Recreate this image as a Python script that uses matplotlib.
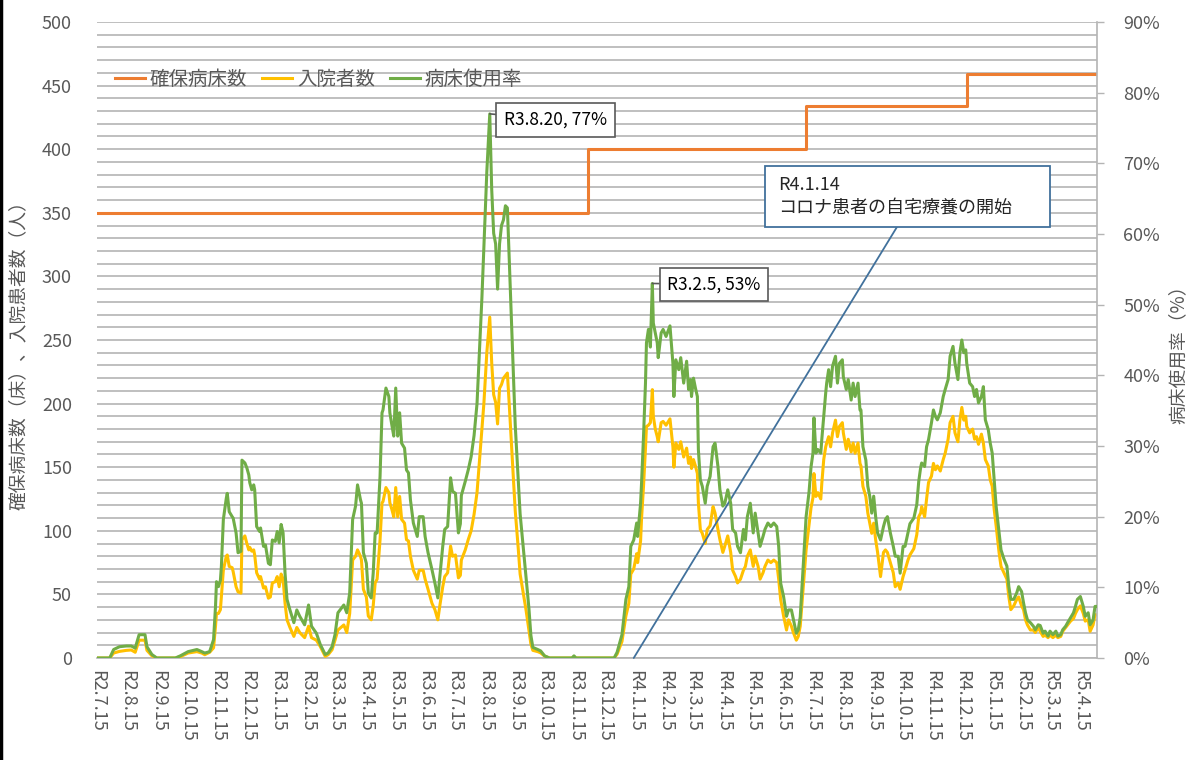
"""Hospital bed capacity, inpatients and bed usage rate (R2.7 - R5.5)."""

import matplotlib
matplotlib.use("Agg")
import matplotlib.pyplot as plt
import matplotlib.ticker as mticker
import pandas as pd
from matplotlib.patches import Rectangle
from matplotlib.lines import Line2D

plt.rcParams['font.family'] = ['Noto Sans CJK JP', 'DejaVu Sans']

START = pd.Timestamp("2020-07-15")  # R2.7.15

# days since R2.7.15
days = [
    0, 13, 17, 23, 30, 35, 39, 43, 49, 51, 56, 61, 80, 85, 93, 102, 107, 110, 115,
    119, 121, 122, 124, 126, 127, 129, 132, 133, 135, 138, 139, 142, 144, 147, 148,
    151, 153, 155, 156, 158, 160, 161, 163, 166, 167, 170, 172, 175, 177, 179, 182,
    184, 186, 188, 190, 192, 194, 197, 201, 204, 207, 212, 216, 219, 224, 228, 233,
    236, 240, 243, 246, 252, 255, 258, 261, 264, 266, 269, 270, 272, 275, 277, 280,
    282, 284, 286, 289, 291, 292, 295, 298, 299, 301, 303, 305, 307, 309, 311, 314,
    316, 318, 320, 323, 327, 329, 333, 335, 338, 342, 345, 348, 350, 353, 355, 358,
    361, 363, 366, 369, 371, 372, 376, 379, 382, 385, 388, 390, 393, 395, 398, 401,
    403, 405, 407, 409, 411, 413, 415, 417, 419, 421, 423, 425, 427, 430, 432, 435,
    438, 441, 443, 445, 450, 453, 457, 462, 485, 487, 489, 528, 531, 536, 540, 543,
    545, 548, 551, 552, 555, 556, 558, 560, 561, 563, 565, 567, 568, 570, 572, 573,
    576, 578, 581, 585, 588, 589, 591, 594, 596, 599, 602, 604, 606, 607, 609, 611,
    613, 614, 616, 618, 621, 623, 626, 629, 631, 634, 636, 639, 641, 644, 647, 649,
    652, 654, 657, 660, 662, 664, 667, 670, 672, 675, 677, 680, 682, 685, 688, 691,
    694, 696, 698, 701, 704, 706, 709, 711, 714, 716, 718, 721, 724, 727, 729, 731,
    732, 734, 736, 739, 740, 742, 744, 745, 747, 749, 751, 754, 756, 758, 761, 762,
    765, 767, 770, 772, 774, 777, 779, 780, 782, 785, 787, 789, 791, 793, 795, 797,
    800, 803, 805, 807, 810, 813, 815, 818, 820, 823, 825, 828, 830, 834, 837, 839,
    841, 842, 845, 847, 849, 852, 854, 856, 858, 861, 864, 866, 869, 871, 874, 876,
    879, 881, 883, 885, 887, 888, 891, 894, 896, 898, 900, 903, 905, 907, 910, 912,
    914, 916, 918, 921, 923, 926, 929, 931, 933, 936, 939, 941, 944, 946, 948, 950,
    953, 956, 958, 961, 963, 966, 968, 971, 973, 976, 979, 981, 984, 986, 989, 991,
    994, 997, 999, 1001, 1004, 1007, 1009, 1012, 1014, 1017, 1019, 1021,
]

# 入院者数 (people)
admitted = [
    0, 0, 3.9, 5.2, 6, 6.3, 4.5, 14, 14, 6, 1.8, 0, 0, 1, 3.9, 5, 3.9, 2.6, 4.5,
    8, 25, 35, 35, 38, 48, 69, 80, 81, 72, 71, 68, 56, 52, 51, 93,
    96, 90, 85, 87, 84, 85, 81, 67, 62, 64, 55, 56, 47, 48, 59, 60,
    64, 56, 66, 62, 43, 30, 24, 17, 24, 20, 16, 25, 16, 14, 9, 1.3,
    2.6, 6.5, 14, 22, 26, 20, 35, 77, 80, 85, 80, 77, 54, 48, 33, 30,
    41, 59, 62, 93, 122, 123, 134, 130, 122, 117, 111, 134, 111, 127, 109, 106,
    93, 92, 80, 69, 62, 69, 69, 62, 54, 43, 38, 30, 41, 56, 64, 67,
    88, 80, 81, 63, 65, 77, 85, 93, 100, 113, 130, 150, 180, 200, 240, 268,
    232, 207, 201, 184, 212, 215, 220, 222, 224, 198, 170, 143, 116, 87, 66, 52,
    38, 22, 11, 6, 5, 4, 1.5, 0, 0, 1, 0, 0, 3, 13, 33, 43,
    66, 70, 82, 75, 92, 110, 135, 165, 182, 183, 185, 211, 190, 180, 174, 170,
    185, 186, 183, 188, 166, 150, 169, 164, 170, 158, 165, 153, 158, 149, 156, 151,
    145, 122, 101, 98, 90, 101, 104, 119, 114, 101, 93, 83, 88, 96, 83, 69,
    64, 59, 62, 69, 72, 80, 85, 72, 80, 72, 62, 67, 72, 77, 75, 77,
    75, 62, 46, 33, 22, 30, 25, 20, 14, 17, 25, 55, 85, 105, 118, 126,
    145, 127, 130, 125, 137, 156, 166, 169, 174, 166, 177, 187, 174, 182, 185, 177,
    164, 172, 162, 169, 161, 169, 153, 151, 135, 127, 114, 106, 98, 106, 93, 83,
    64, 83, 85, 83, 75, 67, 56, 59, 54, 64, 69, 77, 81, 86, 97, 111,
    114, 119, 111, 125, 138, 143, 153, 148, 151, 147, 156, 161, 172, 185, 190, 177,
    170, 187, 197, 187, 190, 182, 177, 180, 172, 174, 168, 176, 169, 156, 151, 140,
    135, 117, 104, 83, 72, 67, 62, 48, 38, 41, 46, 48, 41, 38, 30, 26,
    22, 22, 20, 24, 21, 17, 18, 16, 18, 16, 18, 16, 17, 21, 24, 26,
    29, 31, 35, 38, 41, 35, 29, 30, 21, 26, 34, 34,
]

# 病床使用率 (%)
usage_rate = [
    0, 0, 1.2, 1.6, 1.7, 1.7, 1.4, 3.3, 3.3, 1.6, 0.5, 0, 0, 0.3, 0.9, 1.2, 0.9, 0.7, 0.9,
    2.6, 7.3, 10.8, 10.1, 11, 13, 19.6, 22.6, 23.3, 20.7, 20, 19.8, 17.7, 14.9, 15.1, 28,
    27.6, 26.9, 25.9, 24.8, 23.8, 24.5, 23.8, 18.6, 17.9, 18.4, 15.8, 16, 13.4, 13.2, 16.7, 16.5,
    17.9, 16.3, 18.9, 17.7, 12, 8.3, 6.8, 5, 6.8, 5.9, 4.7, 7.5, 4.5, 3.5, 1.9, 0.5,
    0.7, 1.6, 3.3, 6.4, 7.5, 6.4, 9.2, 19.6, 21.5, 24.5, 22.4, 21.9, 14.9, 13.4, 9.2, 8.5,
    12, 17.7, 17.7, 25.7, 34.7, 35.1, 38.2, 37, 34.7, 33, 31.4, 38.2, 31.4, 34.7, 30.4, 29.7,
    26.6, 26.2, 22.4, 19.1, 17.2, 20, 20, 17.2, 14.9, 12.5, 10.6, 8.5, 11.5, 15.8, 18.2, 18.6,
    25.5, 23.6, 23.3, 17.7, 19, 23, 25, 26.6, 28.5, 31.5, 36, 42, 51, 58, 68.8, 77,
    66.3, 60.1, 58.6, 52.2, 58.6, 61.2, 62, 64, 63.7, 56, 48.4, 40.8, 33, 25.5, 20.4, 16,
    11.5, 7, 3.2, 1.5, 1.2, 1.0, 0.3, 0, 0, 0.3, 0, 0, 0.8, 3.3, 8.3, 10.1,
    15.8, 16.7, 19.1, 17.2, 21.9, 24.8, 31.4, 38.9, 44.6, 46.5, 44, 53, 47.4, 46, 44.6, 42.5,
    46, 46.5, 45.5, 47, 41.7, 37, 42.2, 40.8, 42.5, 38.9, 42, 38, 39.4, 37, 39.6, 38.2,
    37, 29.5, 25.2, 24.3, 21.9, 24.3, 25.7, 29.9, 30.4, 27.1, 23.8, 21.5, 21.9, 23.8, 21.9, 18.2,
    17.7, 15.8, 14.9, 18.2, 16.7, 20, 21.9, 17.7, 20.5, 17.7, 15.8, 17.2, 18.2, 19.1, 18.6, 19.1,
    18.6, 15.8, 10.6, 8.7, 5.9, 6.8, 6.8, 5.5, 3.5, 4, 5.8, 13, 20, 23.5, 27, 29,
    34, 29, 29.5, 29, 30.9, 34.2, 37.5, 38.9, 40.8, 38.4, 41.3, 42.7, 38.9, 41.7, 42.2, 39.8,
    38, 39.4, 36.5, 38.9, 37, 38.9, 35.1, 35.1, 29.9, 28, 24.3, 22.9, 20.5, 22.9, 20, 17.7,
    16.7, 18.6, 19.6, 20, 17.7, 15.8, 14.4, 14.4, 12, 15.8, 15.8, 17.7, 19, 19.8, 21.7, 25,
    27, 27.6, 27.1, 29.9, 30.9, 33.3, 35.1, 34.2, 33.7, 34.7, 37, 38, 39.4, 42.7, 44.1, 41.7,
    39.4, 43.2, 45, 43.2, 43.6, 41.7, 38.9, 38.4, 37, 38, 36.1, 37, 38.4, 33.7, 32.3, 30.4,
    29, 25.2, 21.5, 17.7, 15.3, 14, 13, 10.1, 8.3, 8.3, 9.2, 10.1, 9.4, 7.8, 6.4, 5.4,
    5, 4.5, 4, 4.7, 4.6, 3.5, 3.8, 3.1, 3.8, 3.3, 3.8, 3.1, 3.3, 4, 4.5, 5,
    5.7, 6.4, 7.3, 8.3, 8.7, 7.3, 5.9, 6.4, 4.7, 5.4, 7.3, 7.3,
]

# 確保病床数: step changes (days since R2.7.15)
cap_days = [0, 501, 724, 888, 1021]
cap_beds = [350, 400, 434, 459, 459]

# x tick labels: 15th of each month, R2.7.15 .. R5.4.15
tick_dates = pd.date_range("2020-07-01", "2023-04-01", freq="MS") + pd.Timedelta(days=14)
tick_labels = [f"R{d.year - 2018}.{d.month}.15" for d in tick_dates]

HOME_CARE_DATE = pd.Timestamp("2022-01-14")  # R4.1.14

ORANGE = "#ED7D31"
GOLD = "#FFC000"
GREEN = "#70AD47"
GRAY_TXT = "#595959"
GRID = "#B4B4B4"

assert len(days) == len(admitted) == len(usage_rate)

dates = START + pd.to_timedelta(days, unit="D")
cap_dates = START + pd.to_timedelta(cap_days, unit="D")

W, H = 1187, 760
fig = plt.figure(figsize=(W / 100, H / 100), dpi=100)
ax = fig.add_axes([97 / W, 1 - 658 / H, 1000 / W, 636 / H])
ax2 = ax.twinx()

ax.plot(cap_dates, cap_beds, drawstyle="steps-post", color=ORANGE, lw=2.2, zorder=3)
ax.plot(dates, admitted, color=GOLD, lw=2.2, zorder=3)
ax2.plot(dates, usage_rate, color=GREEN, lw=2.2, zorder=3)

# axes
ax.set_xlim(START, START + pd.Timedelta(days=cap_days[-1]))
ax.set_ylim(0, 500)
ax2.set_ylim(0, 90)

ax.yaxis.set_major_locator(mticker.MultipleLocator(50))
ax.yaxis.set_minor_locator(mticker.MultipleLocator(10))
ax.grid(which="both", axis="y", color=GRID, lw=1.2)
ax.set_axisbelow(True)

ax2.yaxis.set_major_locator(mticker.MultipleLocator(10))
ax2.yaxis.set_major_formatter(mticker.FuncFormatter(lambda v, p: f"{v:.0f}%"))

ax.set_xticks(tick_dates)
ax.set_xticklabels(tick_labels, rotation=-90, ha="center", va="top")

ax.tick_params(axis="x", length=0, pad=9, labelsize=13, labelcolor=GRAY_TXT)
ax.tick_params(axis="y", which="both", length=0, pad=18, labelsize=13, labelcolor=GRAY_TXT)
ax2.tick_params(axis="y", length=5, width=1, color=GRID, pad=14, labelsize=13,
                labelcolor=GRAY_TXT)

for s in ["top", "left", "right"]:
    ax.spines[s].set_visible(False)
for s in ["top", "left", "bottom"]:
    ax2.spines[s].set_visible(False)
ax.spines["bottom"].set_color(GRID)
ax.spines["bottom"].set_linewidth(1.2)
ax2.spines["right"].set_color(GRID)
ax2.spines["right"].set_linewidth(1.2)

# axis titles
fig.text(18 / W, 1 - 351 / H, "確保病床数（床）、入院患者数（人）", rotation=90,
         ha="center", va="center", fontsize=13.5, color=GRAY_TXT)
fig.text(1178 / W, 1 - 350 / H, "病床使用率（%）", rotation=90,
         ha="center", va="center", fontsize=13.5, color=GRAY_TXT)

# legend
handles = [Line2D([], [], color=c, lw=2.2) for c in (ORANGE, GOLD, GREEN)]
ax2.legend(handles, ["確保病床数", "入院者数", "病床使用率"], loc="center left",
           bbox_to_anchor=(0.018, 0.91), ncol=3, frameon=False, fontsize=14,
           handlelength=1.55, handletextpad=0.25, columnspacing=0.75,
           borderpad=0, borderaxespad=0, labelcolor=GRAY_TXT)

# callouts on the two peaks
callout = dict(textcoords="offset pixels", ha="left", va="center", fontsize=12.5,
               bbox=dict(boxstyle="square,pad=0.45", fc="white", ec="#595959", lw=1.2),
               arrowprops=dict(arrowstyle="-", color="#595959", lw=1.2,
                               shrinkA=0, shrinkB=0),
               zorder=6)
peak1 = usage_rate.index(max(usage_rate))
ax2.annotate("R3.8.20, 77%", xy=(dates[peak1], usage_rate[peak1]),
             xytext=(14, -6), **callout)
peak2 = days.index(567)
ax2.annotate("R3.2.5, 53%", xy=(dates[peak2], usage_rate[peak2]),
             xytext=(15, -1), **callout)

# home-care note box
BLUE = "#41719C"
bx0, bx1 = (765 - 97) / 1000, (1050 - 97) / 1000
by0, by1 = (658 - 227) / 636, (658 - 166) / 636
ax2.add_patch(Rectangle((bx0, by0), bx1 - bx0, by1 - by0, transform=ax2.transAxes,
                        fc="white", ec=BLUE, lw=1.3, zorder=6))
ax2.text((778 - 97) / 1000, (658 - 185) / 636, "R4.1.14", transform=ax2.transAxes,
         ha="left", va="center", fontsize=13, color="#262626", zorder=7)
ax2.text((778 - 97) / 1000, (658 - 208) / 636, "コロナ患者の自宅療養の開始",
         transform=ax2.transAxes, ha="left", va="center", fontsize=13,
         color="#262626", zorder=7)
ax.annotate("", xy=(HOME_CARE_DATE, 0), xycoords="data",
            xytext=(bx0 + 0.463 * (bx1 - bx0), by0), textcoords="axes fraction",
            arrowprops=dict(arrowstyle="-", color=BLUE, lw=1.3, shrinkA=0, shrinkB=0),
            zorder=5)

# dark edge on the left of the picture
fig.add_artist(Line2D([1 / W, 1 / W], [0, 1], transform=fig.transFigure,
                      color="black", lw=2.5))

fig.savefig("out.png", dpi=100)
